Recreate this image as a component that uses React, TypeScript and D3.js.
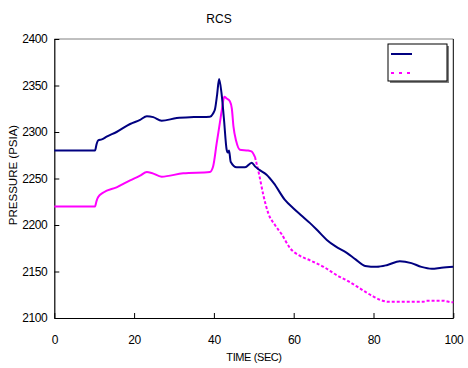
import { useEffect, useRef } from "react";
import * as d3 from "d3";

// RCS pressure traces
const blueTime = [
  0, 10.2, 10.6, 11, 11.9, 13.1, 15.6, 19, 21.5, 23.2, 24.8, 26.9, 30.7, 35, 39,
  39.8, 40.3, 40.8, 41.3, 41.9, 42.5, 43.2, 43.5, 43.8, 44.2, 45.7, 47.8, 49.5,
  50.3, 51.5, 53.2, 55, 57.8, 59.9, 62, 64.1, 66, 68.3, 70.5, 73.3, 75.5, 77.9,
  80.8, 83.5, 86.6, 89.5, 92, 94.6, 97, 100,
];
const bluePressure = [
  2280, 2280, 2287, 2291, 2292, 2295, 2300, 2308.6, 2313, 2317, 2316, 2312,
  2315, 2316, 2316.5, 2320, 2325, 2340, 2357, 2342, 2315, 2281, 2278, 2280,
  2268, 2262, 2262, 2267, 2263, 2259, 2254, 2245, 2227, 2218, 2210, 2202, 2194,
  2184, 2177, 2170, 2163, 2156, 2155, 2157, 2161, 2159, 2155, 2153, 2154, 2155,
];

const magentaTime = [
  0, 10.2, 10.6, 11, 12.3, 15.6, 19, 21.5, 23.2, 24.4, 26.9, 32.3, 39, 39.8,
  40.7, 41.5, 42, 42.6, 43.2, 44, 44.5, 44.9, 45.6, 46.5, 48.6, 49.5, 50.3,
  51.3, 52.4, 53.6, 55.3, 57, 59.1, 61.5, 64.1, 67.5, 70.8, 73.5, 75.8, 78, 80,
  82, 83.7, 88, 92.5, 93.3, 97.5, 99.6, 100,
];
const magentaPressure = [
  2220, 2220, 2226, 2230, 2235, 2240.5, 2248, 2253, 2257, 2256, 2252, 2255.6,
  2257, 2263, 2288, 2310, 2324, 2338, 2336, 2333, 2325, 2306, 2290, 2281, 2280,
  2279, 2273, 2255, 2232, 2213, 2200, 2190, 2175, 2167, 2162, 2155, 2146, 2140,
  2134, 2128, 2123, 2119, 2117.5, 2117.5, 2117.5, 2118.6, 2118.6, 2117, 2117,
];

const xTicks = [0, 20, 40, 60, 80, 100];
const yTicks = [2100, 2150, 2200, 2250, 2300, 2350, 2400];

const width = 468;
const height = 368;
const plot = { left: 54.3, right: 453.3, top: 39, bottom: 318 };

export default function App() {
  const svgRef = useRef<SVGSVGElement>(null);

  useEffect(() => {
    const svg = d3.select(svgRef.current);
    svg.selectAll("*").remove();

    const x = d3.scaleLinear().domain([0, 100]).range([plot.left, plot.right]);
    const y = d3.scaleLinear().domain([2100, 2400]).range([plot.bottom, plot.top]);

    const font = "'Liberation Sans', Arial, sans-serif";

    // frame
    svg.append("line")
      .attr("x1", plot.left).attr("x2", plot.right)
      .attr("y1", plot.top).attr("y2", plot.top)
      .attr("stroke", "#808080");
    svg.append("line")
      .attr("x1", plot.right).attr("x2", plot.right)
      .attr("y1", plot.top).attr("y2", plot.bottom)
      .attr("stroke", "#000");

    // axes
    const xAxis = svg.append("g")
      .attr("transform", `translate(0,${plot.bottom})`)
      .call(d3.axisBottom(x).tickValues(xTicks).tickFormat(d3.format("d"))
        .tickSizeInner(-5).tickSizeOuter(0).tickPadding(17));
    const yAxis = svg.append("g")
      .attr("transform", `translate(${plot.left},0)`)
      .call(d3.axisLeft(y).tickValues(yTicks).tickFormat(d3.format("d"))
        .tickSizeInner(-5).tickSizeOuter(0).tickPadding(7));

    [xAxis, yAxis].forEach((g) => {
      g.select(".domain").attr("stroke", "#000").attr("stroke-width", 1.2);
      g.selectAll(".tick line").attr("stroke", "#000");
      g.selectAll(".tick text")
        .attr("fill", "#000")
        .style("font-family", font)
        .style("font-size", "12px")
        .style("letter-spacing", "-0.4px");
    });

    const line = d3.line<[number, number]>()
      .x((d) => x(d[0]))
      .y((d) => y(d[1]))
      .curve(d3.curveMonotoneX);

    const bluePts = blueTime.map((t, i) => [t, bluePressure[i]] as [number, number]);
    const magPts = magentaTime.map((t, i) => [t, magentaPressure[i]] as [number, number]);

    // magenta: dense part renders solid, the rest dashed
    svg.append("path")
      .attr("d", line(magPts.filter((d) => d[0] <= 50.3)))
      .attr("fill", "none")
      .attr("stroke", "#ff00ff")
      .attr("stroke-width", 2);
    svg.append("path")
      .attr("d", line(magPts.filter((d) => d[0] >= 50.3)))
      .attr("fill", "none")
      .attr("stroke", "#ff00ff")
      .attr("stroke-width", 2)
      .attr("stroke-dasharray", "3,2");

    svg.append("path")
      .attr("d", line(bluePts))
      .attr("fill", "none")
      .attr("stroke", "#000080")
      .attr("stroke-width", 2);

    // title and labels
    svg.append("text")
      .attr("x", 219).attr("y", 22.5)
      .attr("text-anchor", "middle")
      .style("font-family", font).style("font-size", "12px")
      .text("RCS");

    svg.append("text")
      .attr("x", 254).attr("y", 361)
      .attr("text-anchor", "middle")
      .style("font-family", font).style("font-size", "11px")
      .style("letter-spacing", "-0.4px")
      .text("TIME (SEC)");

    svg.append("text")
      .attr("transform", `translate(17,175) rotate(-90)`)
      .attr("text-anchor", "middle")
      .style("font-family", font).style("font-size", "11.5px")
      .text("PRESSURE (PSIA)");

    // legend
    const legend = svg.append("g").attr("transform", "translate(388,44)");
    legend.append("rect")
      .attr("x", 2).attr("y", 2).attr("width", 59).attr("height", 37)
      .attr("fill", "#808080");
    legend.append("rect")
      .attr("x", 0).attr("y", 0).attr("width", 59).attr("height", 37)
      .attr("fill", "#fff").attr("stroke", "#000");
    legend.append("line")
      .attr("x1", 3).attr("x2", 24).attr("y1", 10).attr("y2", 10)
      .attr("stroke", "#000080").attr("stroke-width", 2);
    legend.append("line")
      .attr("x1", 3).attr("x2", 24).attr("y1", 29).attr("y2", 29)
      .attr("stroke", "#ff00ff").attr("stroke-width", 2)
      .attr("stroke-dasharray", "3,5");
  }, []);

  return (
    <svg
      ref={svgRef}
      width={width}
      height={height}
      style={{ position: "absolute", left: 0, top: 0, background: "#fff" }}
    />
  );
}
